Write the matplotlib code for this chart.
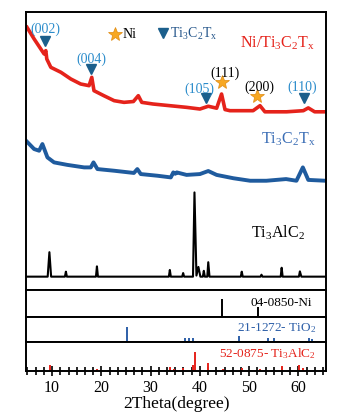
import matplotlib
matplotlib.use("Agg")
import matplotlib.pyplot as plt
from matplotlib.ticker import MultipleLocator, AutoMinorLocator

plt.rcParams['font.family'] = ['Liberation Serif', 'DejaVu Serif']
plt.rcParams['mathtext.fontset'] = 'custom'
plt.rcParams['mathtext.rm'] = 'Liberation Serif'
plt.rcParams['mathtext.it'] = 'Liberation Serif:italic'

# --- measured patterns (2theta in degree, intensity in arbitrary units) ---
ni_mx_x = [4.9, 6.35, 7.7, 8.38, 8.72, 8.92, 9.74, 11.8, 13.8, 15.8, 17.5, 18.05, 18.5,
           20.5, 22.6, 24.6, 26.5, 27.5, 28.2, 30.5, 33.9, 37.3, 40.0, 41.7, 43.4,
           44.4, 45.1, 46.1, 50.8, 52.2, 53.2, 57.6, 61.0, 62.0, 63.3, 65.5]
ni_mx_y = [94.5, 90.3, 86.7, 84.9, 86.1, 83.1, 80.1, 78.3, 75.9, 74.1, 73.5, 76.5, 71.7,
           69.9, 68.1, 67.5, 67.8, 69.9, 67.5, 66.9, 66.3, 65.7, 65.1, 66.1, 65.4,
           70.5, 64.9, 64.5, 64.5, 66.3, 64.1, 64.1, 64.5, 65.5, 64.1, 64.1]

mx_x = [4.7, 6.35, 7.36, 8.03, 9.05, 10.4, 13.1, 16.5, 17.85, 18.4, 19.2, 22.6, 26.6,
        27.3, 28.0, 31.4, 34.1, 34.6, 35.0, 35.3, 37.3, 40.0, 41.7, 43.4, 46.8, 50.2,
        53.5, 57.5, 59.6, 60.9, 62.0, 65.5]
mx_y = [53.7, 50.7, 50.1, 52.5, 47.7, 45.9, 45.0, 44.1, 44.1, 45.9, 43.5, 42.9, 42.1,
        43.5, 41.7, 41.1, 40.5, 42.3, 41.8, 42.3, 41.4, 41.7, 42.8, 41.4, 40.2, 39.3,
        39.3, 39.9, 39.3, 44.1, 39.6, 39.3]

max_x = [4.7, 9.1, 9.45, 9.8, 12.6, 12.8, 13.0, 18.9, 19.1, 19.3, 33.7, 33.9, 34.1,
         36.4, 36.6, 36.8, 38.6, 38.9, 39.3, 39.7, 40.1, 40.6, 40.8, 41.0, 41.5, 41.7,
         41.95, 48.3, 48.5, 48.7, 52.3, 52.5, 52.7, 56.4, 56.6, 56.8, 60.1, 60.3, 60.6, 65.5]
max_y = [4.8, 4.8, 13.6, 4.8, 4.8, 6.6, 4.8, 4.8, 8.5, 4.8, 4.8, 7.2, 4.8,
         4.8, 6.1, 4.8, 4.8, 35.1, 5.2, 8.3, 4.8, 4.8, 6.9, 4.8, 4.8, 10.0,
         4.8, 4.8, 6.6, 4.8, 4.8, 5.5, 4.8, 4.8, 8.0, 4.8, 4.8, 6.7, 4.8, 4.8]

# --- reference cards (position, relative height) ---
ni_ref_pos = [44.5, 51.8]
ni_ref_h = [0.67, 0.37]
tio2_ref_pos = [25.3, 36.9, 37.8, 38.6, 48.0, 53.9, 55.1, 62.1, 62.7]
tio2_ref_h = [0.60, 0.16, 0.16, 0.16, 0.24, 0.16, 0.16, 0.16, 0.12]
max_ref_pos = [9.5, 19.1, 33.9, 34.8, 36.6, 38.6, 39.0, 41.7, 44.7, 48.5, 52.3, 56.6, 60.2, 61.0]
max_ref_h = [0.22, 0.07, 0.15, 0.08, 0.10, 0.20, 0.66, 0.28, 0.07, 0.10, 0.07, 0.17, 0.22, 0.10]

# --- peak annotations ---
tri_labels = ['(002)', '(004)', '(105)', '(110)']
tri_x = [8.5, 17.85, 41.3, 61.1]
tri_y = [89.5, 79.5, 69.0, 69.0]
tri_tx = [8.6, 18.0, 39.8, 60.85]
tri_ty = [94.0, 83.5, 72.6, 73.3]
star_labels = ['(111)', '(200)']
star_x = [44.4, 51.5]
star_y = [74.9, 69.7]
star_tx = [45.1, 52.05]
star_ty = [78.5, 73.3]

red = '#e5231b'
blue_line = '#1f5b9e'
lbl_blue = '#2b8ccb'
tri_col = '#1b5f8c'
star_col = '#f7a823'
xlim = (4.7, 65.6)

fig = plt.figure(figsize=(3.39, 4.14), dpi=100)
W = 414.0
def box(top, bot):
    return [26 / 339, (W - bot) / W, 300 / 339, (bot - top) / W]

ax = fig.add_axes(box(13, 291))
ax1 = fig.add_axes(box(291, 318))
ax2 = fig.add_axes(box(318, 343))
ax3 = fig.add_axes(box(343, 372))

ax.plot(ni_mx_x, ni_mx_y, color=red, lw=2.6, solid_joinstyle='round')
ax.plot(mx_x, mx_y, color=blue_line, lw=2.8, solid_joinstyle='round')
ax.plot(max_x, max_y, color='black', lw=1.5)
ax.set_ylim(0, 100)

ms = r'$\mathregular{Ti_3C_2T_x}$'
ax.text(63.3, 89.2, r'$\mathregular{Ni/Ti_3C_2T_x}$', color=red, fontsize=11.5, ha='right', va='center')
ax.text(63.4, 54.5, ms, color='#3a6db5', fontsize=11.5, ha='right', va='center')
ax.text(61.3, 21.0, r'$\mathregular{Ti_3AlC_2}$', color='black', fontsize=11.5, ha='right', va='center')

# legend
ax.plot([22.8], [92.2], marker='*', ms=10, color=star_col, mec='#e08a10', mew=0.5, ls='none')
ax.text(24.3, 92.2, 'Ni', fontsize=10, va='center')
ax.plot([32.6], [92.4], marker='v', ms=6.5, color=tri_col, ls='none')
ax.text(33.9, 92.4, ms, fontsize=10, va='center', color='#24558a')

for lab, x, y, tx, ty in zip(tri_labels, tri_x, tri_y, tri_tx, tri_ty):
    ax.plot([x], [y], marker='v', ms=6.5, color=tri_col, ls='none')
    ax.text(tx, ty, lab, color=lbl_blue, fontsize=10, ha='center', va='center')
for lab, x, y, tx, ty in zip(star_labels, star_x, star_y, star_tx, star_ty):
    ax.plot([x], [y], marker='*', ms=10, color=star_col, mec='#e08a10', mew=0.5, ls='none')
    ax.text(tx, ty, lab, color='black', fontsize=10, ha='center', va='center')

ax1.vlines(ni_ref_pos, 0, ni_ref_h, color='black', lw=1.4)
ax1.text(62.7, 0.55, '04-0850-Ni', fontsize=9.5, ha='right', va='center')
ax2.vlines(tio2_ref_pos, 0, tio2_ref_h, color='#2d5fa8', lw=1.4)
ax2.text(63.5, 0.58, r'21-1272- TiO$\mathregular{_2}$', fontsize=9.5, ha='right', va='center', color='#2d5fa8')
ax3.vlines(max_ref_pos, 0, max_ref_h, color=red, lw=1.4)
ax3.text(63.5, 0.64, r'52-0875- Ti$\mathregular{_3}$AlC$\mathregular{_2}$', fontsize=9.5, ha='right', va='center', color=red)

for a in (ax, ax1, ax2, ax3):
    a.set_xlim(*xlim)
    a.set_yticks([])
    for s in a.spines.values():
        s.set_linewidth(1.4)
    a.tick_params(axis='x', which='both', bottom=False, labelbottom=False)
for a in (ax1, ax2, ax3):
    a.set_ylim(0, 1)

ax3.xaxis.set_major_locator(MultipleLocator(10))
ax3.xaxis.set_minor_locator(AutoMinorLocator(6))
ax3.tick_params(axis='x', which='both', bottom=True, labelbottom=True, direction='inout',
                width=1.2, labelsize=11.5, pad=2)
ax3.tick_params(axis='x', which='major', length=7)
ax3.tick_params(axis='x', which='minor', length=6)
ax3.set_xlabel('2Theta(degree)', fontsize=12.5, labelpad=0)

fig.savefig('out.png', dpi=100)
